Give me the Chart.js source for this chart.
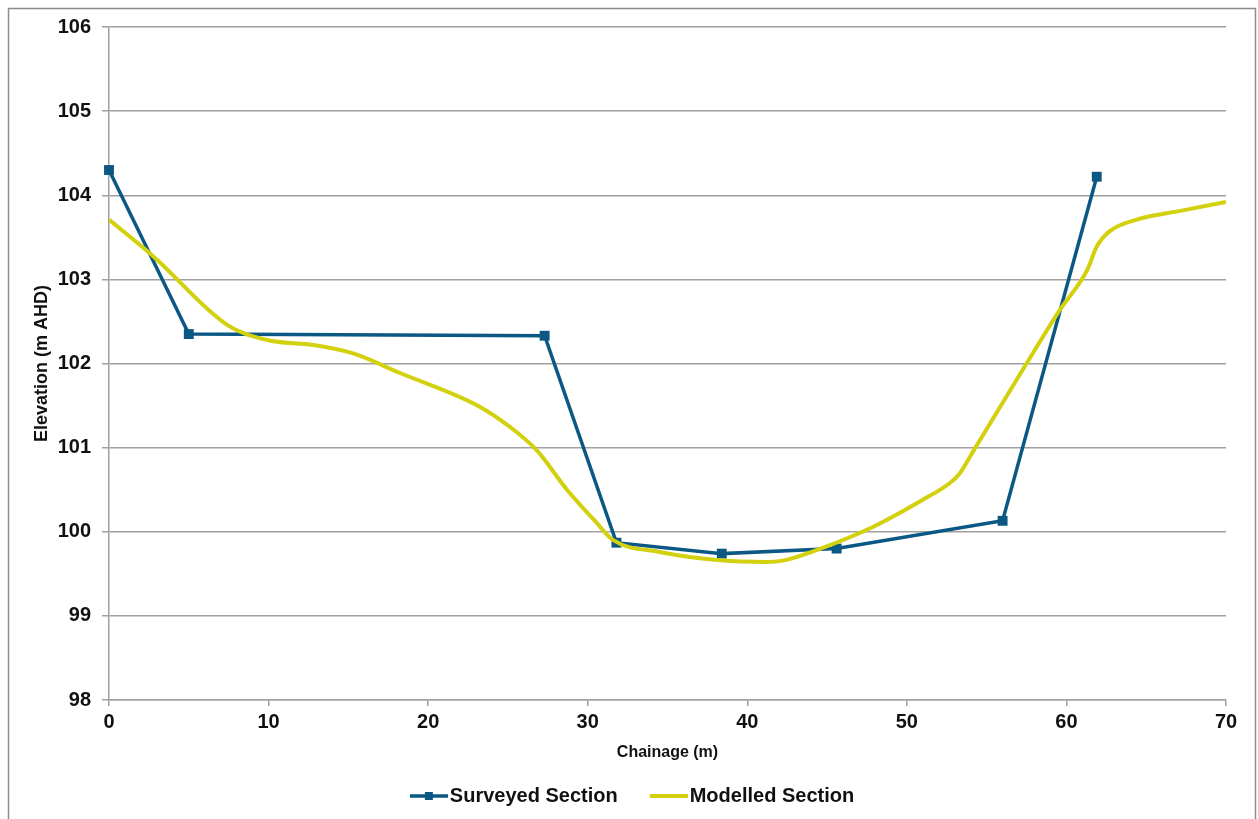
<!DOCTYPE html>
<html>
<head>
<meta charset="utf-8">
<script src="https://cdn.jsdelivr.net/npm/chart.js@4/dist/chart.umd.min.js"></script>
<style>
    html, body { margin: 0; padding: 0; background: #fff; }
    #wrap { position: relative; width: 1258px; height: 819px; }
</style>
</head>
<body>
<div id="wrap"><canvas id="sectionChart" width="1258" height="819"></canvas></div>
<script>
// surveyed cross section (chainage m, elevation m AHD)
var surveyedX = [0, 5.0, 27.3, 31.8, 38.4, 45.6, 56.0, 61.9];
var surveyedY = [104.30, 102.35, 102.33, 99.87, 99.74, 99.80, 100.13, 104.22];

// modelled cross section
var modelledX = [0, 2.8, 7.4, 9.9, 12.8, 15.3, 18.2, 23.2, 25.1, 26.8, 28.7, 30.4, 31.6, 34.5, 38.3, 41.2, 42.3, 44.6, 47.9, 51.0, 52.7, 53.3, 54.2, 57.5, 59.6, 61.3, 61.9, 62.7, 64.4, 67.3, 70];
var modelledY = [103.71, 103.27, 102.46, 102.28, 102.22, 102.12, 101.89, 101.49, 101.25, 100.97, 100.50, 100.14, 99.90, 99.76, 99.66, 99.64, 99.66, 99.80, 100.06, 100.38, 100.58, 100.69, 100.97, 102.00, 102.64, 103.11, 103.39, 103.57, 103.71, 103.82, 103.92];

var xTicks = [0, 10, 20, 30, 40, 50, 60, 70];
var yTicks = [98, 99, 100, 101, 102, 103, 104, 105, 106];

var blue = '#0b5884';
var yellow = '#d3d00e';

function toPoints(xs, ys) {
    return xs.map(function (x, i) { return { x: x, y: ys[i] }; });
}

// legend icon: 68px wide canvas, the visible sample sits in its right part
// so it ends just before the label text
function legendIcon(color, withMarker) {
    var c = document.createElement('canvas');
    c.width = 68; c.height = 12;
    var g = c.getContext('2d');
    g.strokeStyle = color;
    g.lineWidth = withMarker ? 3.5 : 4;
    g.beginPath();
    g.moveTo(30, 6);
    g.lineTo(68, 6);
    g.stroke();
    if (withMarker) {
        g.fillStyle = color;
        g.fillRect(45, 2, 8, 8);
    }
    return c;
}

var frame = {
    id: 'frame',
    beforeDraw: function (chart) {
        var ctx = chart.ctx;
        ctx.save();
        ctx.fillStyle = '#fff';
        ctx.fillRect(0, 0, chart.width, chart.height);
        ctx.strokeStyle = '#8c8c8c';
        ctx.lineWidth = 1.5;
        ctx.beginPath();
        ctx.moveTo(8.5, 819);
        ctx.lineTo(8.5, 8.5);
        ctx.lineTo(1255.5, 8.5);
        ctx.lineTo(1255.5, 819);
        ctx.stroke();
        ctx.restore();
    }
};

var tickFont = { family: 'Liberation Sans, Arial', size: 20, weight: 'bold' };

new Chart('sectionChart', {
    type: 'line',
    data: {
        datasets: [{
            label: 'Surveyed Section',
            data: toPoints(surveyedX, surveyedY),
            borderColor: blue,
            backgroundColor: blue,
            borderWidth: 3.5,
            pointStyle: 'rect',
            pointRadius: 7,
            pointBorderWidth: 0,
            tension: 0,
            clip: false,
            order: 2
        }, {
            label: 'Modelled Section',
            data: toPoints(modelledX, modelledY),
            borderColor: yellow,
            backgroundColor: yellow,
            borderWidth: 4,
            pointRadius: 0,
            cubicInterpolationMode: 'monotone',
            order: 1
        }]
    },
    options: {
        responsive: false,
        animation: false,
        layout: { padding: { left: 16, top: 27, right: 32, bottom: 3 } },
        plugins: {
            tooltip: { enabled: false },
            legend: {
                position: 'bottom',
                labels: {
                    color: '#111',
                    font: { family: 'Liberation Sans, Arial', size: 20, weight: 'bold' },
                    usePointStyle: true,
                    pointStyleWidth: 52,
                    padding: 10,
                    generateLabels: function (chart) {
                        return chart.data.datasets.map(function (ds, i) {
                            return {
                                text: ds.label,
                                datasetIndex: i,
                                pointStyle: legendIcon(ds.borderColor, i === 0),
                                fillStyle: ds.borderColor,
                                strokeStyle: ds.borderColor,
                                lineWidth: 0,
                                fontColor: '#111'
                            };
                        });
                    }
                }
            }
        },
        scales: {
            x: {
                type: 'linear',
                min: 0,
                max: 70,
                afterBuildTicks: function (s) { s.ticks = xTicks.map(function (v) { return { value: v }; }); },
                afterFit: function (s) { s.height = 76; },
                border: { color: '#a0a0a0', width: 1.5 },
                grid: { drawOnChartArea: false, drawTicks: true, tickLength: 6, color: '#a0a0a0', lineWidth: 1.5 },
                ticks: { color: '#111', font: tickFont, padding: 4, maxRotation: 0 },
                title: {
                    display: true,
                    text: 'Chainage (m)',
                    color: '#111',
                    font: { family: 'Liberation Sans, Arial', size: 16, weight: 'bold' },
                    padding: { top: 0, bottom: 14 }
                }
            },
            y: {
                min: 98,
                max: 106,
                afterBuildTicks: function (s) { s.ticks = yTicks.map(function (v) { return { value: v }; }); },
                afterFit: function (s) { s.width = 93; },
                border: { color: '#a0a0a0', width: 1.5 },
                grid: { color: '#a0a0a0', lineWidth: 1.5, tickLength: 7 },
                ticks: { color: '#111', font: tickFont, padding: 11 },
                title: {
                    display: true,
                    text: 'Elevation (m AHD)',
                    color: '#111',
                    font: { family: 'Liberation Sans, Arial', size: 18, weight: 'bold' },
                    padding: { top: 15, bottom: 0 }
                }
            }
        }
    },
    plugins: [frame]
});
</script>
</body>
</html>
